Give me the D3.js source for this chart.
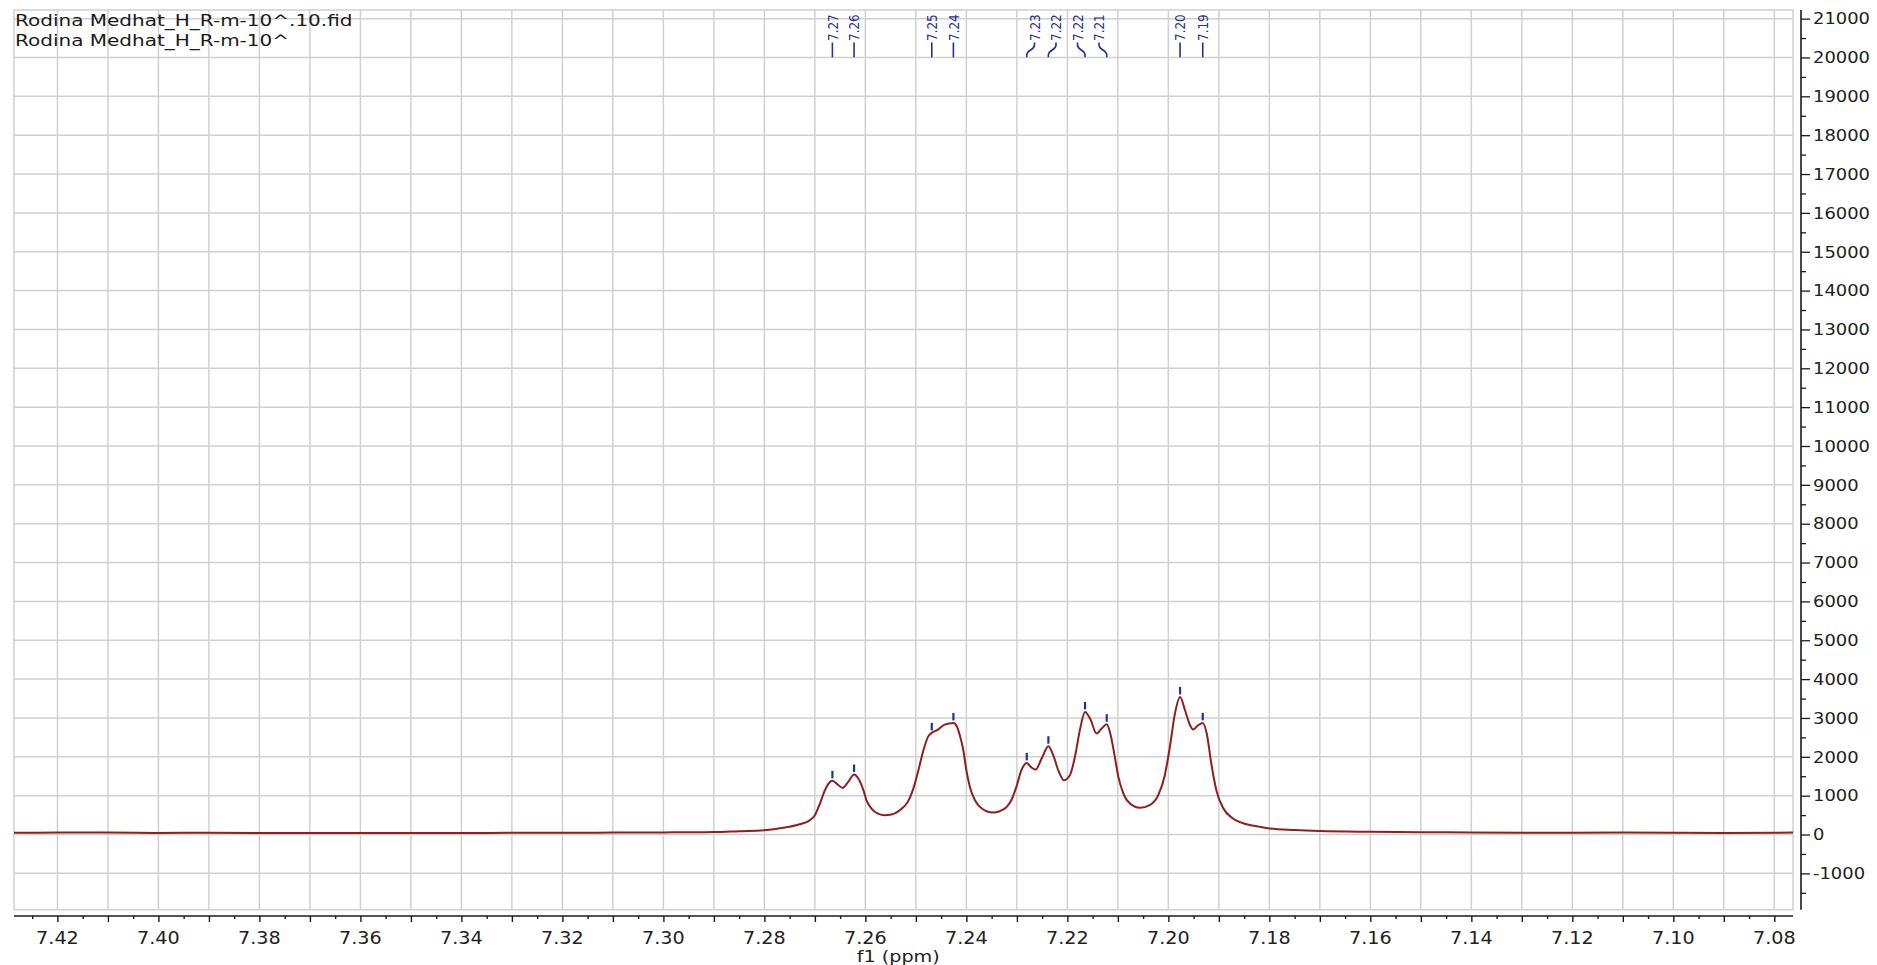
<!DOCTYPE html>
<html>
<head>
<meta charset="utf-8">
<script src="https://cdn.jsdelivr.net/npm/d3@7"></script>
<style>
  html, body { margin: 0; padding: 0; background: #fff; }
  svg { display: block; }
</style>
</head>
<body>
<svg id="chart" width="1877" height="965"></svg>
<script>
// Experiment title lines (top-left corner)
const titleLines = ["Rodina Medhat_H_R-m-10^.10.fid", "Rodina Medhat_H_R-m-10^"];
const axisTitle = "f1 (ppm)";

// Spectrum trace: chemical shift (ppm) and intensity
const shiftPpm = [
  7.4286, 7.42, 7.41, 7.40, 7.39, 7.38, 7.37, 7.36, 7.35, 7.34, 7.33, 7.32, 7.31, 7.30, 7.295,
  7.29, 7.285, 7.28, 7.2763, 7.2730, 7.2710, 7.2700, 7.2690, 7.2680, 7.2670, 7.26653, 7.2657,
  7.2645, 7.2634, 7.26224, 7.2614, 7.2604, 7.2598, 7.2588, 7.2575, 7.2561, 7.2551, 7.2532,
  7.2516, 7.2506, 7.2495, 7.2485, 7.2476, 7.24685, 7.2456, 7.2443, 7.24257, 7.2419, 7.2413,
  7.2406, 7.2400, 7.2393, 7.2383, 7.2373, 7.2360, 7.2347, 7.2334, 7.2320, 7.2311, 7.2301,
  7.2291, 7.22804, 7.2271, 7.2263, 7.2251, 7.22376, 7.2228, 7.2218, 7.2207, 7.2195, 7.2185,
  7.2175, 7.2165, 7.2155, 7.2142, 7.2132, 7.2122, 7.2115, 7.2106, 7.2099, 7.2089, 7.2076,
  7.2056, 7.2037, 7.2020, 7.2007, 7.1997, 7.1987, 7.19768, 7.1967, 7.1957, 7.1951, 7.1941,
  7.19319, 7.1924, 7.1915, 7.1905, 7.1891, 7.1872, 7.1845, 7.1819, 7.1799, 7.175, 7.17,
  7.16, 7.15, 7.14, 7.13, 7.12, 7.11, 7.10, 7.09, 7.08, 7.0763
];
const intensity = [
  45, 50, 52, 42, 44, 40, 38, 40, 42, 40, 44, 46, 50, 55, 58,
  62, 86, 111, 172, 266, 369, 497, 798, 1141, 1355, 1381, 1312,
  1201, 1355, 1544, 1441, 1141, 883, 669, 540, 497, 506, 626,
  840, 1141, 1655, 2170, 2513, 2616, 2701, 2830, 2873, 2787, 2556,
  2170, 1655, 1226, 883, 712, 600, 566, 600, 712, 883, 1226,
  1655, 1844, 1724, 1672, 1955, 2273, 2041, 1655, 1398, 1527, 1998,
  2700, 3156, 2984, 2599, 2727, 2839, 2599, 1998, 1484, 1055, 798,
  686, 755, 1012, 1527, 2255, 3113, 3542, 3199, 2813, 2701, 2813,
  2873, 2599, 1827, 1141, 669, 412, 266, 197, 154, 115, 90,
  70, 58, 55, 48, 44, 50, 45, 42, 48, 50
];

// Picked peaks
const peakPpm = [7.26653, 7.26224, 7.24685, 7.24257, 7.22804, 7.22376, 7.2165, 7.2122, 7.19768, 7.19319];
const peakHeight = [1381, 1544, 2616, 2873, 1844, 2273, 3156, 2839, 3542, 2873];

// Axis ticks
const xLabelTicks = [7.42, 7.40, 7.38, 7.36, 7.34, 7.32, 7.30, 7.28, 7.26, 7.24, 7.22, 7.20, 7.18, 7.16, 7.14, 7.12, 7.10, 7.08];
const yLabelTicks = [-1000, 0, 1000, 2000, 3000, 4000, 5000, 6000, 7000, 8000, 9000, 10000,
  11000, 12000, 13000, 14000, 15000, 16000, 17000, 18000, 19000, 20000, 21000];

const svg = d3.select("#chart");
const plot = { left: 14, right: 1793, top: 10, bottom: 909.7 };

const x = d3.scaleLinear().domain([7.4286, 7.0763]).range([plot.left, plot.right]);
const y = d3.scaleLinear().domain([-1935, 21222]).range([plot.bottom, plot.top]);

const gridColor = "#d0d0d0";
const fontFamily = "'DejaVu Sans', Verdana, sans-serif";

// Grid: one vertical line every 0.01 ppm, one horizontal line every 1000
const xGrid = d3.range(708, 743).map(d => d / 100);
const grid = svg.append("g");
grid.selectAll("line.v").data(xGrid).join("line")
  .attr("x1", d => x(d)).attr("x2", d => x(d))
  .attr("y1", plot.top).attr("y2", plot.bottom)
  .attr("stroke", gridColor).attr("stroke-width", 1.5);
grid.selectAll("line.h").data(yLabelTicks).join("line")
  .attr("x1", plot.left).attr("x2", plot.right)
  .attr("y1", d => y(d)).attr("y2", d => y(d))
  .attr("stroke", gridColor).attr("stroke-width", 1.5);
grid.append("rect")
  .attr("x", plot.left).attr("y", plot.top)
  .attr("width", plot.right - plot.left).attr("height", plot.bottom - plot.top)
  .attr("fill", "none").attr("stroke", gridColor).attr("stroke-width", 1.5);

// Title
svg.append("g").selectAll("text").data(titleLines).join("text")
  .attr("transform", (d, i) => `translate(15,${26 + i * 20}) scale(1.25,1)`)
  .attr("font-family", fontFamily).attr("font-size", 16).attr("fill", "#1a1a1a")
  .text(d => d);

// Spectrum
const points = shiftPpm.map((p, i) => [p, intensity[i]]);
const line = d3.line().x(d => x(d[0])).y(d => y(d[1])).curve(d3.curveMonotoneX);
svg.append("path").datum(points)
  .attr("d", line)
  .attr("fill", "none").attr("stroke", "#8e1f1f").attr("stroke-width", 2)
  .attr("stroke-linejoin", "round");

// Peak markers
const peakColor = "#25318f";
const peaks = peakPpm.map((p, i) => ({ ppm: p, h: peakHeight[i], label: p.toFixed(2) }));
svg.append("g").selectAll("line").data(peaks).join("line")
  .attr("x1", d => x(d.ppm)).attr("x2", d => x(d.ppm))
  .attr("y1", d => y(d.h) - 2.5).attr("y2", d => y(d.h) - 10)
  .attr("stroke", peakColor).attr("stroke-width", 2.2);

// Label layout: close peaks form a cluster whose labels are spread evenly around its centre
const labelGap = 21.5, clusterGap = 40;
const clusters = [];
peaks.forEach(pk => {
  pk.px = x(pk.ppm);
  const last = clusters[clusters.length - 1];
  if (last && pk.px - last[last.length - 1].px < clusterGap) last.push(pk);
  else clusters.push([pk]);
});
clusters.forEach(c => {
  const centre = (c[0].px + c[c.length - 1].px) / 2;
  if (c.length > 2) c.forEach((pk, i) => pk.lx = centre - labelGap * (c.length - 1) / 2 + i * labelGap);
  else c.forEach(pk => pk.lx = pk.px);
});

const labels = svg.append("g");
labels.selectAll("path").data(peaks).join("path")
  .attr("d", d => `M${d.lx},42.5 L${d.lx},45 C${d.lx},50.5 ${d.px},49.5 ${d.px},55 L${d.px},57.3`)
  .attr("fill", "none").attr("stroke", peakColor).attr("stroke-width", 1.6);
labels.selectAll("text").data(peaks).join("text")
  .attr("transform", d => `translate(${d.lx},41) scale(1.2,1) rotate(-90)`)
  .attr("dy", "0.36em")
  .attr("font-family", fontFamily).attr("font-size", 12).attr("fill", peakColor)
  .text(d => d.label);

// X axis (ppm, decreasing to the right)
const axisY = 916;
const xMajor = d3.range(708, 743).map(d => d / 100);
const xMinor = d3.range(708, 743).map(d => d / 100 + 0.005).filter(d => x(d) >= plot.left && x(d) <= plot.right);
const xAxisG = svg.append("g").attr("transform", `translate(0,${axisY})`);
xAxisG.append("line").attr("x1", plot.left).attr("x2", plot.right)
  .attr("y1", 0).attr("y2", 0).attr("stroke", "#1a1a1a").attr("stroke-width", 1.4);
xAxisG.append("g")
  .call(d3.axisBottom(x).tickValues(xMajor).tickSize(6).tickSizeOuter(0).tickFormat(""))
  .call(g => g.select(".domain").remove())
  .call(g => g.selectAll("line").attr("stroke", "#1a1a1a").attr("stroke-width", 1.4));
xAxisG.append("g")
  .call(d3.axisBottom(x).tickValues(xMinor).tickSize(3).tickSizeOuter(0).tickFormat(""))
  .call(g => g.select(".domain").remove())
  .call(g => g.selectAll("line").attr("stroke", "#1a1a1a").attr("stroke-width", 1.4));
xAxisG.append("g").selectAll("text").data(xLabelTicks).join("text")
  .attr("transform", d => `translate(${x(d)},27.5) scale(1.13,1)`)
  .attr("text-anchor", "middle")
  .attr("font-family", fontFamily).attr("font-size", 17).attr("fill", "#222")
  .text(d => d.toFixed(2));
svg.append("text")
  .attr("transform", `translate(${x(7.2535)},961.5) scale(1.2,1)`)
  .attr("text-anchor", "middle")
  .attr("font-family", fontFamily).attr("font-size", 16).attr("fill", "#222")
  .text(axisTitle);

// Y axis (right side)
const axisX = 1801;
const yMinor = d3.range(-1500, 21001, 1000);
const yAxisG = svg.append("g").attr("transform", `translate(${axisX},0)`);
yAxisG.append("line").attr("x1", 0).attr("x2", 0)
  .attr("y1", plot.top).attr("y2", plot.bottom).attr("stroke", "#1a1a1a").attr("stroke-width", 1.6);
yAxisG.append("g")
  .call(d3.axisRight(y).tickValues(yLabelTicks).tickSize(9).tickSizeOuter(0).tickFormat(""))
  .call(g => g.select(".domain").remove())
  .call(g => g.selectAll("line").attr("stroke", "#1a1a1a").attr("stroke-width", 1.3));
yAxisG.append("g")
  .call(d3.axisRight(y).tickValues(yMinor).tickSize(5).tickSizeOuter(0).tickFormat(""))
  .call(g => g.select(".domain").remove())
  .call(g => g.selectAll("line").attr("stroke", "#1a1a1a").attr("stroke-width", 1.3));
yAxisG.append("g").selectAll("text").data(yLabelTicks).join("text")
  .attr("transform", d => `translate(12,${y(d)}) scale(1.12,1)`)
  .attr("dy", "0.36em")
  .attr("font-family", fontFamily).attr("font-size", 16).attr("fill", "#222")
  .text(d => d);
</script>
</body>
</html>
